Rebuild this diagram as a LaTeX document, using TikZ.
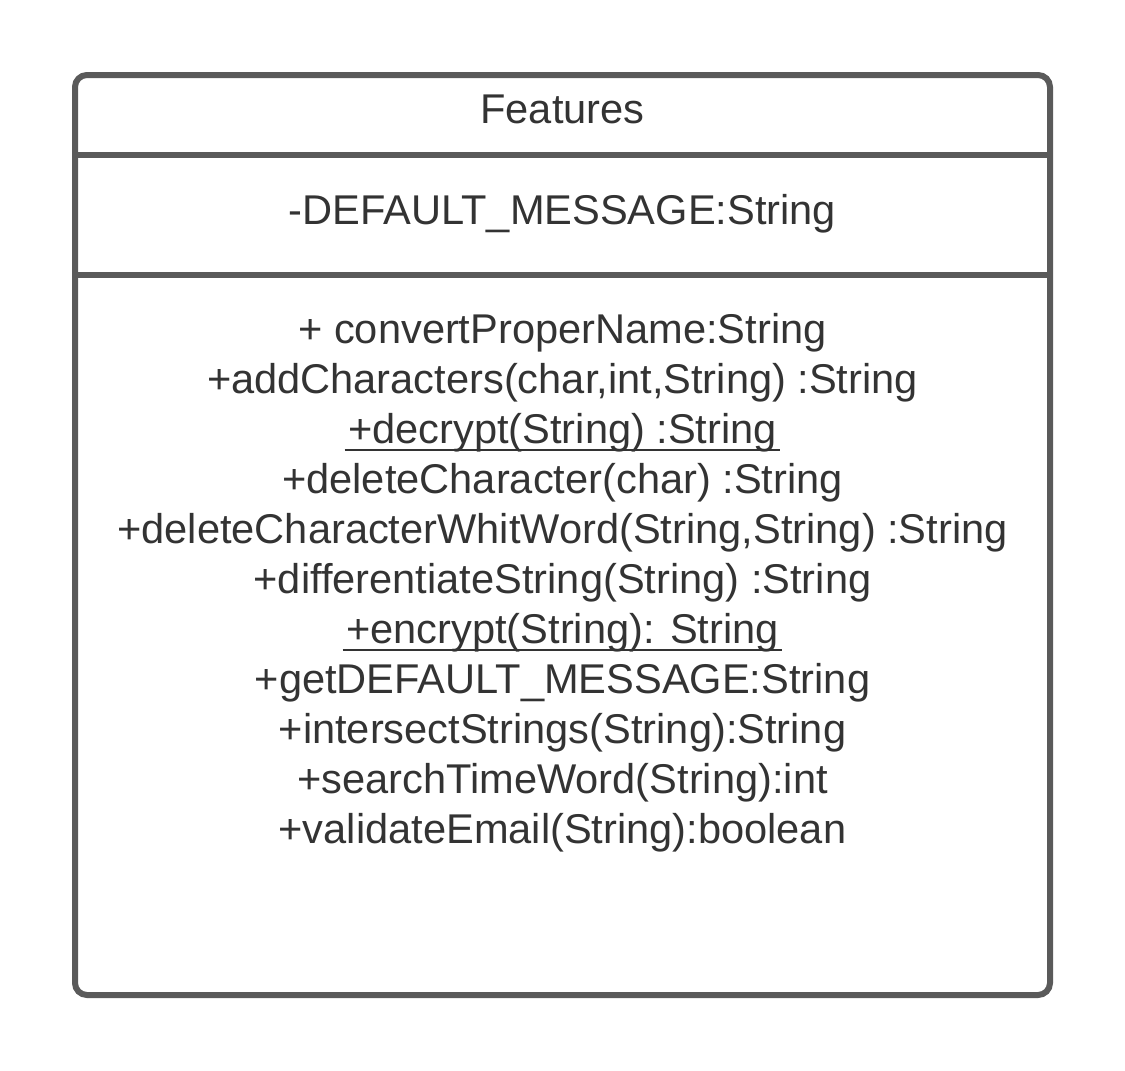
\documentclass[tikz,border=0pt]{standalone}
\usepackage{fontspec}
\setmainfont{Liberation Sans}
\usetikzlibrary{calc}
\definecolor{umlline}{RGB}{90,90,90}
\definecolor{umltext}{RGB}{51,51,51}
\tikzset{every picture/.style={line width=0.75pt}}
\tikzset{
  umltxt/.style={anchor=base, inner sep=0pt, text=umltext, font=\fontsize{31.2}{37.5}\selectfont},
  umlrule/.style={draw=umlline, line width=4.5pt},
  uline/.style={draw=umltext, line width=2pt}
}
\begin{document}
\begin{tikzpicture}[x=0.75pt,y=0.75pt,yscale=-1,xscale=1]
\useasboundingbox (0,0) rectangle (1125,1071);

% class box and compartments
\draw [umlrule, rounded corners=9pt] (75,75) -- (1050,75) -- (1050,995) -- (75,995) -- cycle ;
\draw [umlrule] (75,155) -- (1050,155) ;
\draw [umlrule] (75,275) -- (1050,275) ;

\node [umltxt] (title) at (562.5,123) {Features};
\node [umltxt] (attr) at (562.5,224) {-DEFAULT\_MESSAGE:String};

% operations
\foreach \txt [count=\i] in {{+ convertProperName:String},
    {+addCharacters(char,int,String) :String},
    {+decrypt(String) :String},
    {+deleteCharacter(char) :String},
    {+deleteCharacterWhitWord(String,String) :String},
    {+differentiateString(String) :String},
    {+encrypt(String): String},
    {+getDEFAULT\_MESSAGE:String},
    {+intersectStrings(String):String},
    {+searchTimeWord(String):int},
    {+validateEmail(String):boolean}}
  \node [umltxt] (m\i) at (562.5,293+50*\i) {\txt};

% static operations
\draw [uline] ($(m3.base west)+(-3,7)$) -- ($(m3.base east)+(3,7)$) ;
\draw [uline] ($(m7.base west)+(-3,7)$) -- ($(m7.base east)+(3,7)$) ;

\end{tikzpicture}
\end{document}
